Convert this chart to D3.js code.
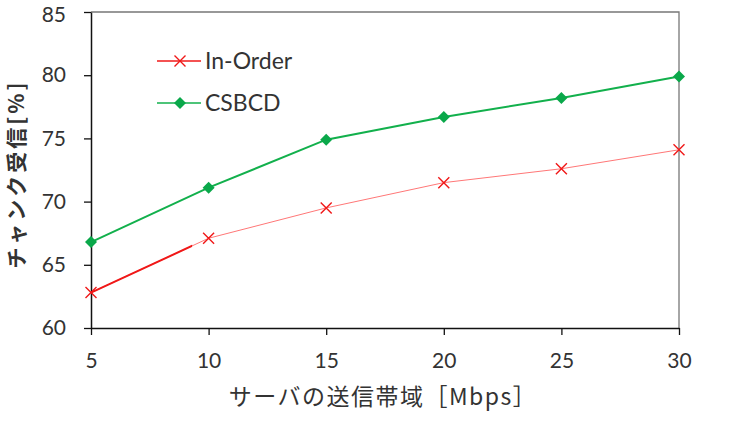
<!DOCTYPE html>
<html><head><meta charset="utf-8">
<script src="https://cdn.jsdelivr.net/npm/d3@7"></script>
<style>body{margin:0;background:#fff}svg{display:block}</style>
</head><body>
<script>
const bandwidth = [5, 10, 15, 20, 25, 30];
const inOrder = [62.8, 67.1, 69.5, 71.5, 72.6, 74.1];
const csbcd = [66.8, 71.1, 74.9, 76.7, 78.2, 79.9];
const yTicks = [60, 65, 70, 75, 80, 85];
const xTicks = [5, 10, 15, 20, 25, 30];
const seriesNames = ["In-Order", "CSBCD"];

const W = 733, H = 434;
const m = {l: 91, r: 54, t: 12, b: 106};
const svg = d3.select("body").append("svg").attr("width", W).attr("height", H);
const x = d3.scaleLinear().domain([5, 30]).range([m.l, W - m.r]);
const y = d3.scaleLinear().domain([60, 85]).range([H - m.b, m.t]);
const font = "Lato, 'Noto Sans CJK JP', sans-serif";
const jfont = "'Noto Sans CJK JP', Lato, sans-serif";

// frame (top & right)
svg.append("path").attr("d", `M${x(5)},${y(85)}H${x(30)}V${y(60)}`)
  .attr("fill", "none").attr("stroke", "#777").attr("stroke-width", 1.3);

const gx = svg.append("g").attr("transform", `translate(0,${y(60)})`)
  .call(d3.axisBottom(x).tickValues(xTicks).tickSize(7).tickPadding(18).tickSizeOuter(0));
const gy = svg.append("g").attr("transform", `translate(${x(5)},0)`)
  .call(d3.axisLeft(y).tickValues(yTicks).tickSize(7).tickPadding(18).tickSizeOuter(0));
[gx, gy].forEach(g => {
  g.select(".domain").attr("stroke", "#111").attr("stroke-width", 1.5);
  g.selectAll(".tick line").attr("stroke", "#111").attr("stroke-width", 1.3);
  g.selectAll("text").attr("font-family", font).attr("font-size", 21).attr("fill", "#333");
});
// keep the top label inside the page
gy.selectAll(".tick text").filter(d => d === 85).attr("dy", "0.45em");

const line = d3.line().x(d => x(d[0])).y(d => y(d[1]));
const ioData = bandwidth.map((b, i) => [b, inOrder[i]]);
const csData = bandwidth.map((b, i) => [b, csbcd[i]]);

// In-Order: thin faint line, with a bold start segment
svg.append("path").datum(ioData).attr("d", line).attr("fill", "none")
  .attr("stroke", "#f77").attr("stroke-width", 1);
svg.append("clipPath").attr("id", "clipIO").append("rect")
  .attr("x", 0).attr("y", 0).attr("width", x(9.3)).attr("height", H);
svg.append("path").datum(ioData).attr("d", line).attr("fill", "none")
  .attr("clip-path", "url(#clipIO)")
  .attr("stroke", "#f01818").attr("stroke-width", 2);

svg.append("path").datum(csData).attr("d", line).attr("fill", "none")
  .attr("stroke", "#12b04c").attr("stroke-width", 2);

function cross(g, cx, cy, s) {
  g.append("path").attr("d", `M${cx - s},${cy - s}L${cx + s},${cy + s}M${cx - s},${cy + s}L${cx + s},${cy - s}`)
    .attr("stroke", "#f01818").attr("stroke-width", 1.4).attr("fill", "none");
}
function diamond(g, cx, cy, s) {
  g.append("path").attr("d", `M${cx},${cy - s}L${cx + s},${cy}L${cx},${cy + s}L${cx - s},${cy}Z`)
    .attr("fill", "#0aa84a");
}
ioData.forEach(d => cross(svg, x(d[0]), y(d[1]), 5.5));
csData.forEach(d => diamond(svg, x(d[0]), y(d[1]), 6));

// legend
const lg = svg.append("g");
const legY = [61, 103];
seriesNames.forEach((n, i) => {
  lg.append("line").attr("x1", 157).attr("x2", 201).attr("y1", legY[i]).attr("y2", legY[i])
    .attr("stroke", i === 0 ? "#f01818" : "#12b04c").attr("stroke-width", 1.6);
  if (i === 0) cross(lg, 180, legY[i], 5.5); else diamond(lg, 180, legY[i], 6);
  lg.append("text").attr("x", 205).attr("y", legY[i]).attr("dy", "0.36em")
    .attr("font-family", font).attr("font-size", 23).attr("fill", "#333").text(n);
});

// axis titles
svg.append("text").attr("x", 383).attr("y", 397).attr("dy", "0.35em").attr("text-anchor", "middle")
  .attr("font-family", jfont).attr("font-size", 23).attr("letter-spacing", 1.5).attr("fill", "#333")
  .text("サーバの送信帯域［Mbps］");
svg.append("text").attr("transform", "translate(17,174) rotate(-90)").attr("dy", "0.35em")
  .attr("text-anchor", "middle").attr("font-family", jfont).attr("font-size", 21)
  .attr("letter-spacing", 3).attr("font-weight", "bold").attr("fill", "#333").text("チャンク受信[%]");
</script>
</body></html>
